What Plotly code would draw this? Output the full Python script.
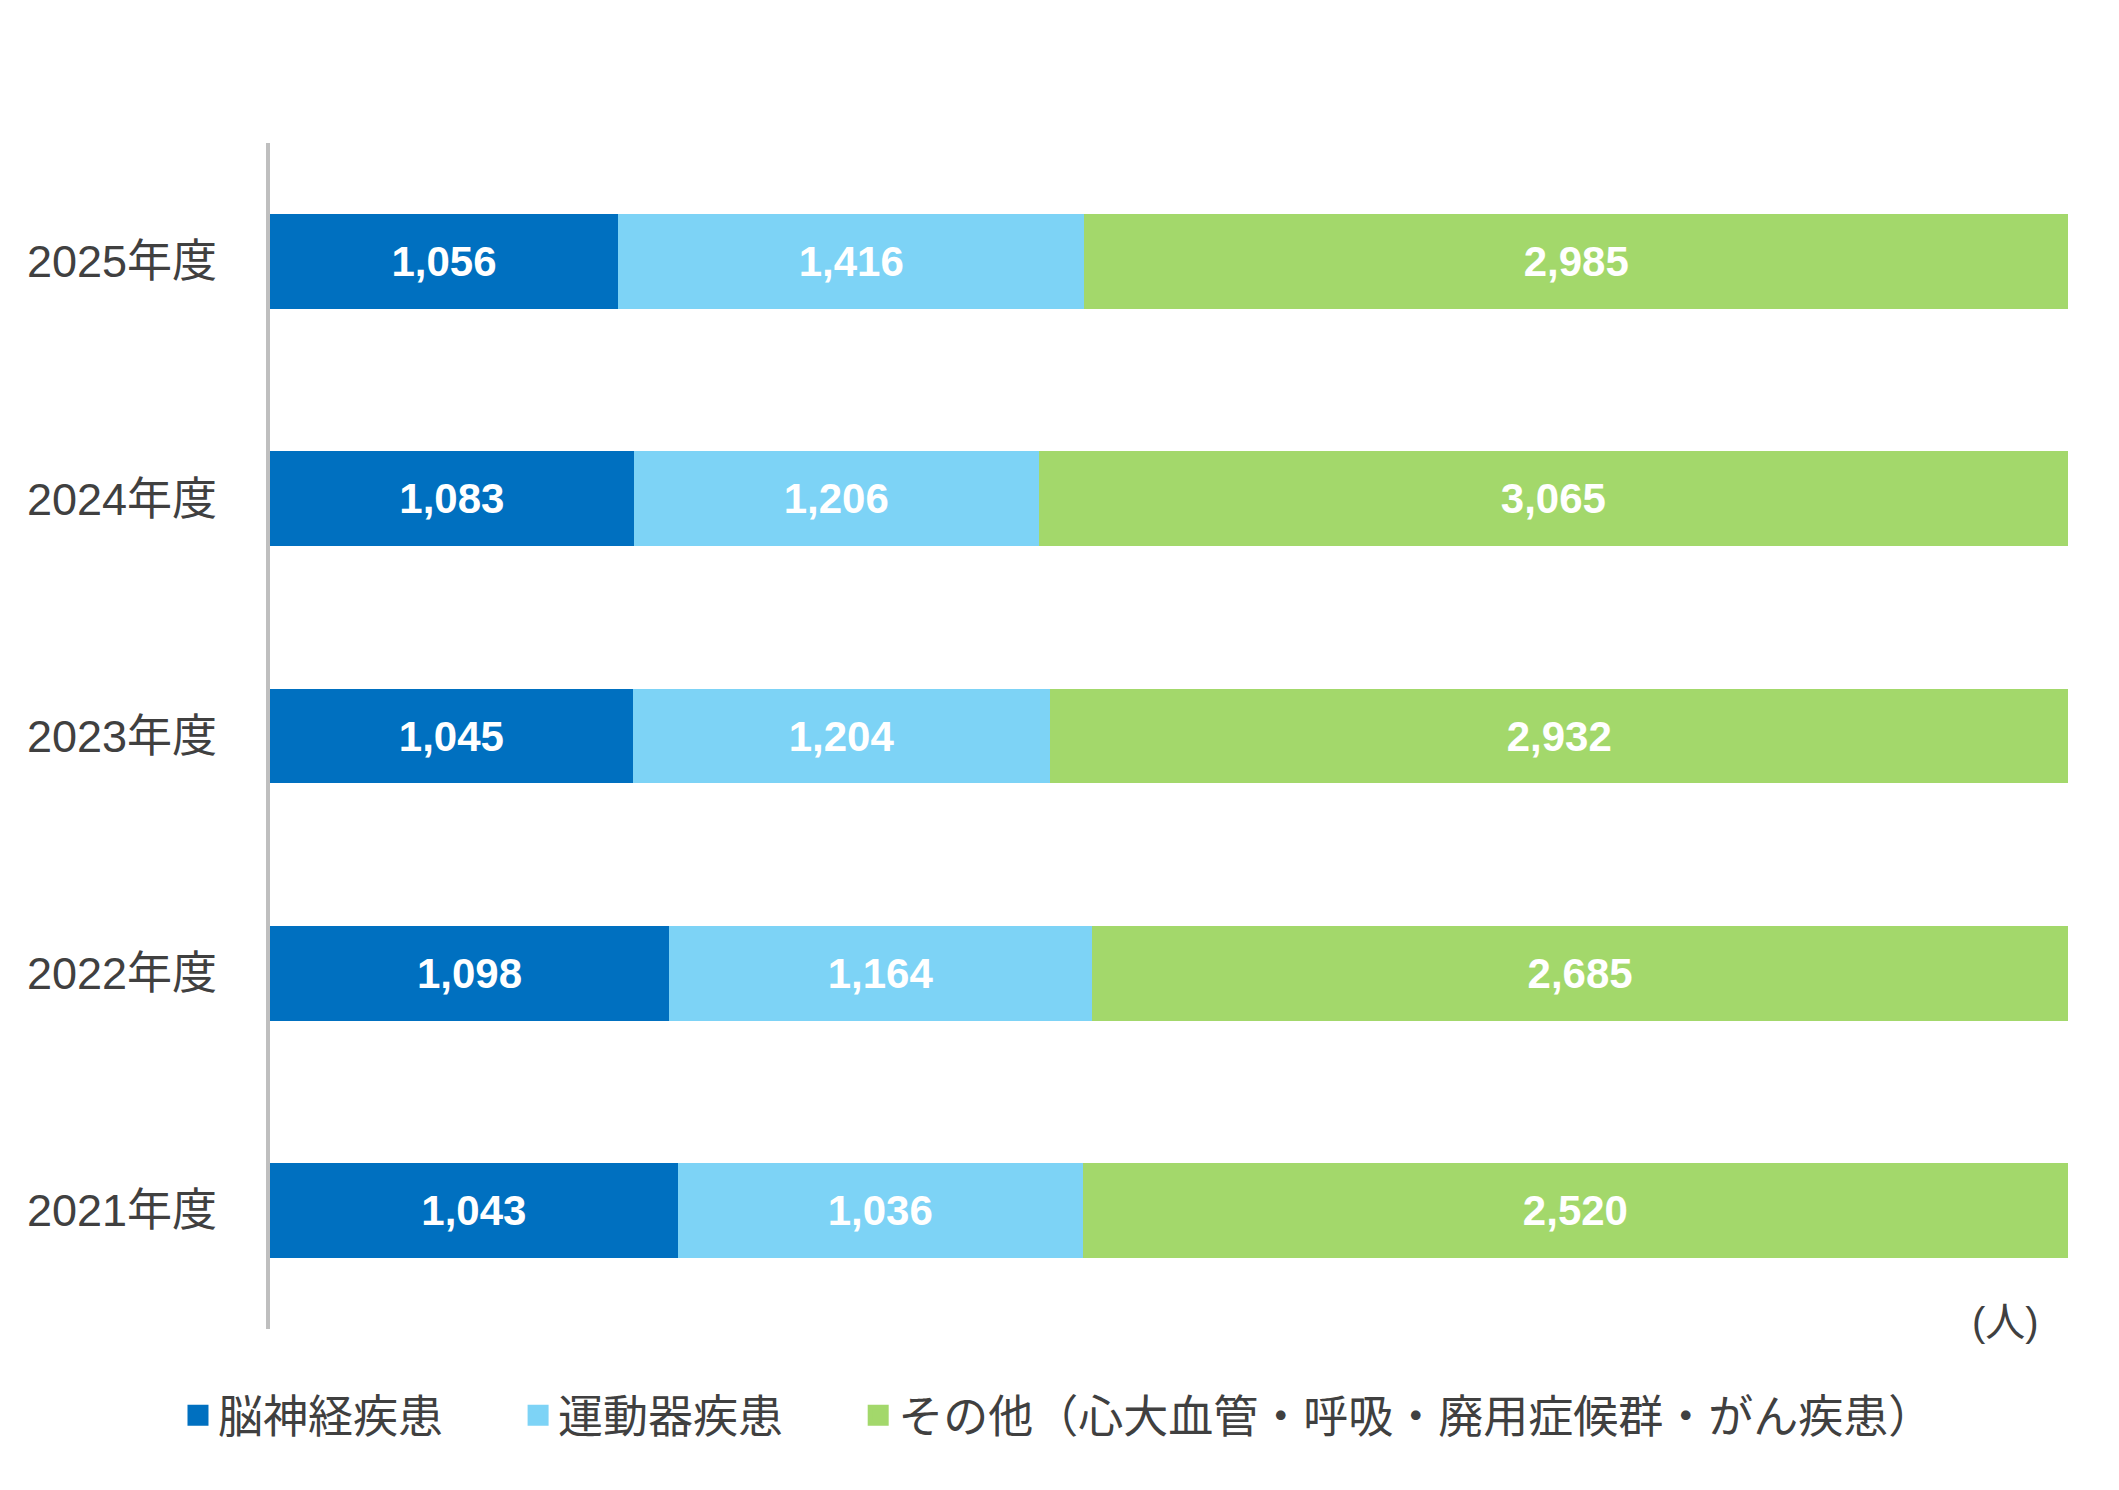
import plotly.graph_objects as go

years = ["2021年度", "2022年度", "2023年度", "2024年度", "2025年度"]
neuro = [1043, 1098, 1045, 1083, 1056]
motor = [1036, 1164, 1204, 1206, 1416]
other = [2520, 2685, 2932, 3065, 2985]

series_names = ["脳神経疾患", "運動器疾患", "その他（心大血管・呼吸・廃用症候群・がん疾患）"]
colors = ["#0070C0", "#7DD3F6", "#A3D86B"]
legend_ids = ["legend", "legend2", "legend3"]
legend_x = [0.084, 0.2445, 0.405]

FONT = "'Liberation Sans', Arial, 'Noto Sans CJK JP', sans-serif"

fig = go.Figure()
for name, vals, col, lid in zip(series_names, [neuro, motor, other], colors, legend_ids):
    fig.add_trace(go.Bar(
        y=years, x=vals, name=name, orientation="h",
        marker=dict(color=col, line=dict(width=0)),
        text=[f"{v:,}" for v in vals],
        textposition="inside", insidetextanchor="middle", textangle=0,
        constraintext="none",
        textfont=dict(family=FONT, size=42, color="white", weight="bold"),
        hoverinfo="skip",
        showlegend=False,
        legendgroup=name,
    ))
    # legend-only entry with a larger square swatch
    fig.add_trace(go.Scatter(
        x=[None], y=[None], mode="markers", name=name,
        marker=dict(symbol="square", size=16, color=col,
                    line=dict(color=col, width=5)),
        hoverinfo="skip", showlegend=True, legend=lid, legendgroup=name,
    ))

def leg(x):
    return dict(
        orientation="h", xref="container", yref="container",
        x=x, xanchor="left", y=0.05, yanchor="middle",
        font=dict(size=45, color="#404040"),
        bgcolor="rgba(0,0,0,0)", itemsizing="trace",
    )

fig.update_layout(
    width=2119, height=1490,
    barmode="stack", barnorm="percent", bargap=0.6,
    plot_bgcolor="white", paper_bgcolor="white",
    margin=dict(l=270, r=51, t=143, b=161),
    font=dict(family=FONT, color="#404040"),
    showlegend=True,
    legend=leg(legend_x[0]),
    legend2=leg(legend_x[1]),
    legend3=leg(legend_x[2]),
    xaxis=dict(range=[0, 100], showticklabels=False, showgrid=False,
               zeroline=False, showline=False, fixedrange=True),
    yaxis=dict(showgrid=False, zeroline=False, showline=True,
               linecolor="#BFBFBF", linewidth=4,
               tickfont=dict(size=45, color="#404040"),
               ticks="", ticklabelstandoff=40),
    annotations=[dict(
        text="(人)", xref="paper", yref="paper", x=0.985, y=0.006,
        xanchor="right", yanchor="middle", showarrow=False,
        font=dict(size=40, color="#404040"),
    )],
)

fig.write_html("out.html")
